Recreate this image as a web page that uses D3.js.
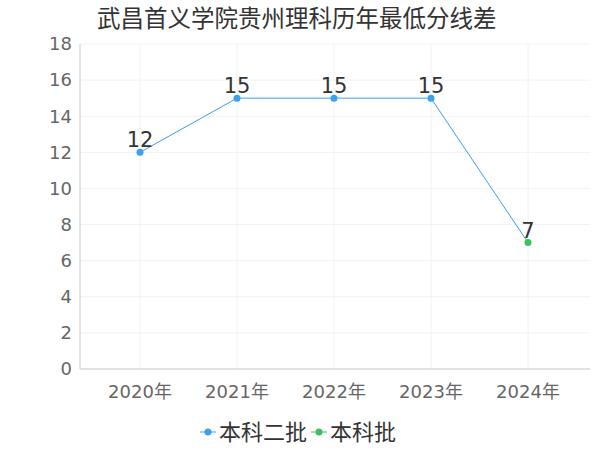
<!DOCTYPE html>
<html><head><meta charset="utf-8">
<script src="https://cdn.jsdelivr.net/npm/d3@7"></script>
<style>body{margin:0;background:#fff;font-family:"DejaVu Sans","Noto Sans CJK SC",sans-serif;}</style>
</head><body><svg id="c" width="600" height="450"></svg>
<script>
const categories=["2020年","2021年","2022年","2023年","2024年"];
const values=[12,15,15,15,7];
const seriesOf=["本科二批","本科二批","本科二批","本科二批","本科批"];
const legendNames=["本科二批","本科批"];
const colors={"本科二批":"#3aa0f0","本科批":"#3cc060"};
const yTicks=[0,2,4,6,8,10,12,14,16,18];
const svg=d3.select("#c").attr("font-family","DejaVu Sans, Noto Sans CJK SC, sans-serif");
const x=d3.scaleBand().domain(categories).range([91.5,576.5]);
const y=d3.scaleLinear().domain([0,18]).range([369,44]);
svg.append("text").attr("x",97).attr("y",27).attr("font-size",23.5).attr("fill","#333").text("武昌首义学院贵州理科历年最低分线差");
const g=svg.append("g");
yTicks.forEach(t=>{g.append("line").attr("x1",80).attr("x2",590).attr("y1",y(t)).attr("y2",y(t)).attr("stroke","#f2f2f2");
g.append("text").attr("x",72).attr("y",y(t)).attr("dy","0.35em").attr("text-anchor","end").attr("font-size",18).attr("fill","#666").text(t);});
categories.forEach(c=>{const cx=x(c)+x.bandwidth()/2;
g.append("line").attr("x1",cx).attr("x2",cx).attr("y1",44).attr("y2",369).attr("stroke","#f2f2f2");
g.append("text").attr("x",cx).attr("y",398).attr("text-anchor","middle").attr("font-size",18).attr("fill","#666").text(c);});
g.append("line").attr("x1",80).attr("x2",80).attr("y1",44).attr("y2",369).attr("stroke","#ccc");
g.append("line").attr("x1",80).attr("x2",590).attr("y1",369).attr("y2",369).attr("stroke","#ccc");
const pts=values.map((v,i)=>[x(categories[i])+x.bandwidth()/2,y(v)]);
g.append("path").attr("d",d3.line()(pts)).attr("fill","none").attr("stroke","#3aa0f0").attr("stroke-width",1);
pts.forEach((p,i)=>{g.append("circle").attr("cx",p[0]).attr("cy",p[1]).attr("r",3.5).attr("fill",colors[seriesOf[i]]);
g.append("text").attr("x",p[0]).attr("y",p[1]-5).attr("text-anchor","middle").attr("font-size",21).attr("fill","#333").text(values[i]);});
const lg=svg.append("g");
let lx=200;
legendNames.forEach(n=>{lg.append("line").attr("x1",lx).attr("x2",lx+16).attr("y1",432).attr("y2",432).attr("stroke",colors[n]);
lg.append("circle").attr("cx",lx+8).attr("cy",432).attr("r",3.5).attr("fill",colors[n]);
const t=lg.append("text").attr("x",lx+19).attr("y",432).attr("dy","0.35em").attr("font-size",22).attr("fill","#333").text(n);
lx+=19+t.node().getComputedTextLength()+4;});
</script></body></html>
